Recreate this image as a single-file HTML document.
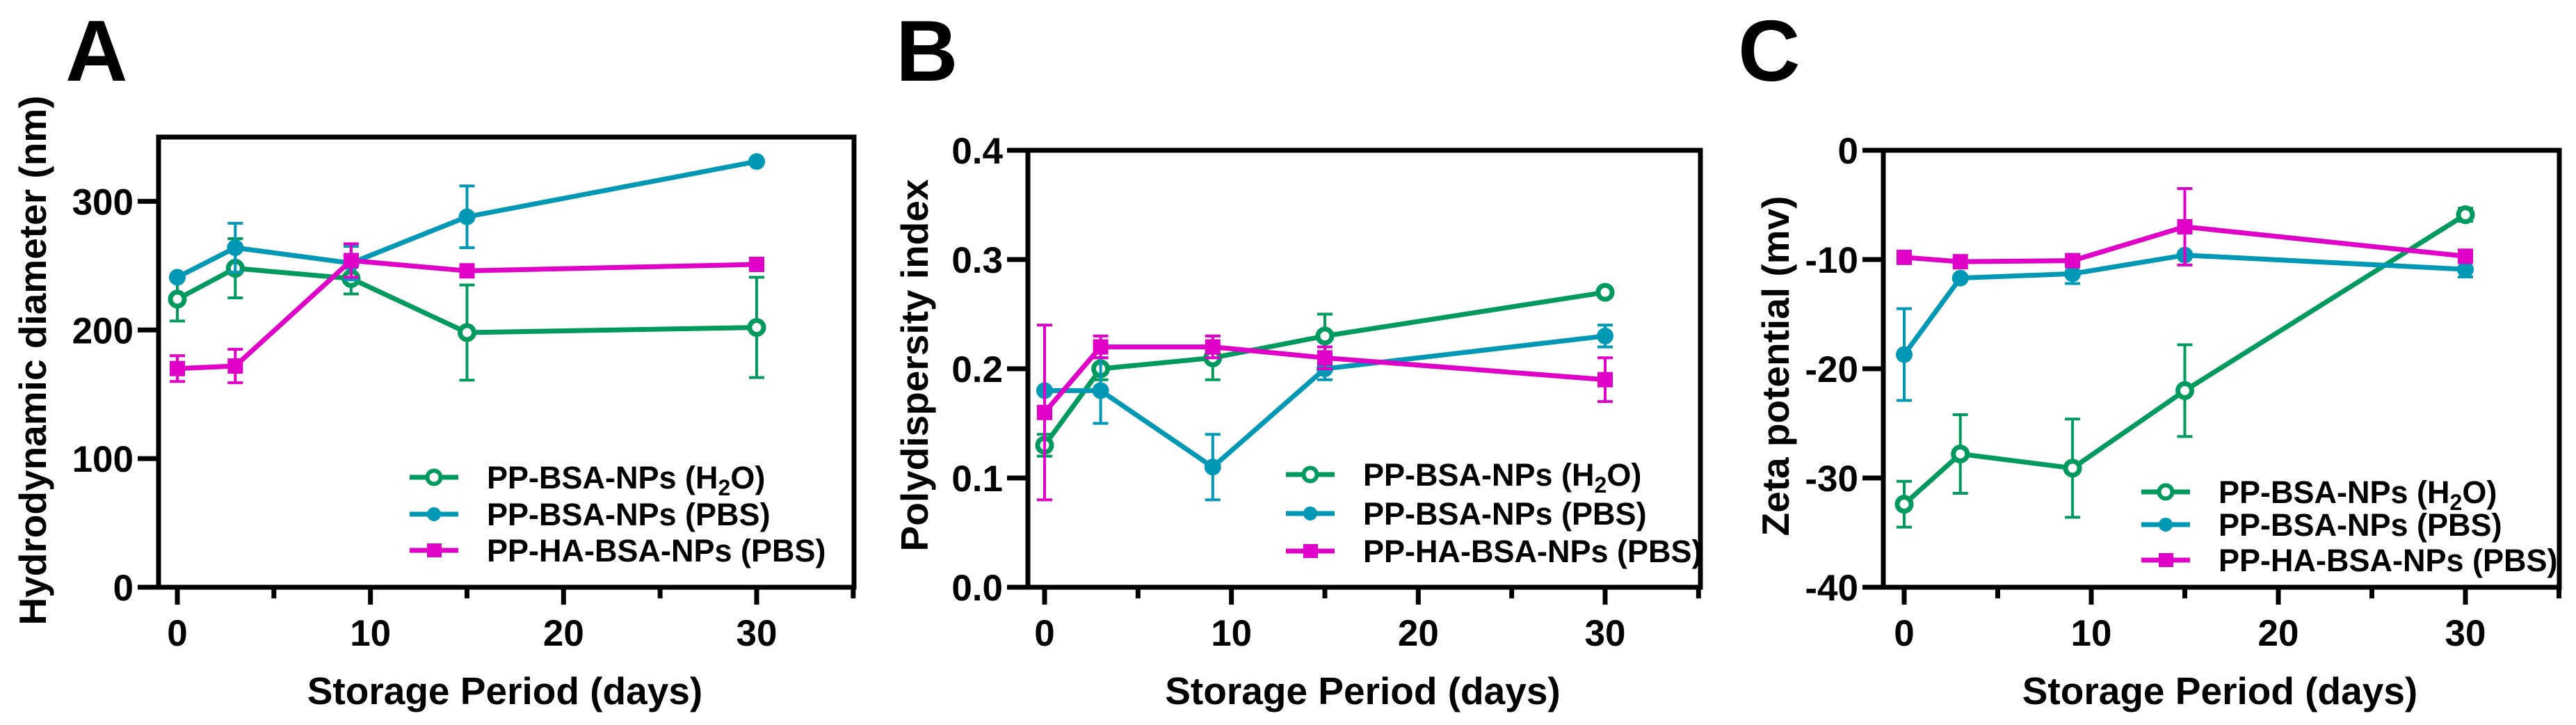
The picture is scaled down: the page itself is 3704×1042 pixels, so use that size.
<!DOCTYPE html>
<html><head><meta charset="utf-8"><style>
html,body{margin:0;padding:0;background:#fff;}
svg{display:block;font-family:"Liberation Sans",Arial,sans-serif;font-weight:bold;}
</style></head><body>
<svg id="fig" width="3704" height="1042" viewBox="0 0 3704 1042" xmlns="http://www.w3.org/2000/svg"></svg>
<script>
const days = [0, 3, 9, 15, 30];
const seriesNames = ["PP-BSA-NPs (H2O)", "PP-BSA-NPs (PBS)", "PP-HA-BSA-NPs (PBS)"];
// Panel A: hydrodynamic diameter
const aH2O = [224, 248, 240, 198, 202];
const aH2OErr = [17, 23, 12, 37, 39];
const aPBS = [241, 264, 252, 288, 331];
const aPBSErr = [0, 19, 13, 24, 0];
const aHA = [170, 172, 254, 246, 251];
const aHAErr = [10, 13, 13, 0, 0];
const aTicks = [0, 100, 200, 300];
// Panel B: PDI
const bH2O = [0.13, 0.20, 0.21, 0.23, 0.27];
const bH2OErr = [0.01, 0.01, 0.02, 0.02, 0];
const bPBS = [0.18, 0.18, 0.11, 0.20, 0.23];
const bPBSErr = [0, 0.03, 0.03, 0.01, 0.01];
const bHA = [0.16, 0.22, 0.22, 0.21, 0.19];
const bHAErr = [0.08, 0.01, 0.01, 0.01, 0.02];
const bTicks = ["0.0", "0.1", "0.2", "0.3", "0.4"];
// Panel C: zeta potential
const cH2O = [-32.4, -27.8, -29.1, -22.0, -5.9];
const cH2OErr = [2.1, 3.6, 4.5, 4.2, 0.6];
const cPBS = [-18.7, -11.7, -11.3, -9.6, -10.9];
const cPBSErr = [4.2, 0, 0.9, 0, 0.7];
const cHA = [-9.8, -10.2, -10.1, -7.0, -9.7];
const cHAErr = [0, 0, 0, 3.5, 0];
const cTicks = [-40, -30, -20, -10, 0];
const xTicks = [0, 10, 20, 30];
const xMinor = [5, 15, 25, 35];

const NS = "http://www.w3.org/2000/svg";
const svg = document.getElementById("fig");
const GREEN = "#009a5e", TEAL = "#0098b4", MAG = "#e000c8";
function mk(tag, attrs, parent) {
  const e = document.createElementNS(NS, tag);
  for (const k in attrs) e.setAttribute(k, attrs[k]);
  (parent || svg).appendChild(e);
  return e;
}

function panel(cfg) {
  const g = mk("g", {});
  
  
  const X = v => cfg.x0 + (v / 30) * (cfg.x30 - cfg.x0);
  const Y = v => cfg.bottom - (v - cfg.ymin) / (cfg.ymax - cfg.ymin) * (cfg.bottom - cfg.top);
  // letter
  const L = mk("text", {x: cfg.letterX, y: 116, "font-size": 124}, g);
  L.textContent = cfg.letter;
  
  
  // frame
  const fr = mk("rect", {x: cfg.left, y: cfg.top, width: cfg.right - cfg.left, height: cfg.bottom - cfg.top, fill: "none", stroke: "#000", "stroke-width": 7}, g);
  
  
  // y ticks
  cfg.yTicks.forEach(t => {
    const v = parseFloat(t);
    const yy = Y(v);
    const tk = mk("line", {x1: cfg.left - 30, x2: cfg.left, y1: yy, y2: yy, stroke: "#000", "stroke-width": 7}, g);
    
    
    const tl = mk("text", {x: cfg.left - 36, y: yy + 19, "font-size": 53, "text-anchor": "end"}, g);
    tl.textContent = String(t);
    
    
  });
  // x ticks
  xTicks.forEach(t => {
    const xx = X(t);
    const tk = mk("line", {x1: xx, x2: xx, y1: cfg.bottom, y2: cfg.bottom + 25, stroke: "#000", "stroke-width": 7}, g);
    
    
    const tl = mk("text", {x: xx, y: 928, "font-size": 53, "text-anchor": "middle"}, g);
    tl.textContent = String(t);
    
    
  });
  xMinor.forEach(t => {
    const xx = Math.min(X(t), cfg.right);
    const tk = mk("line", {x1: xx, x2: xx, y1: cfg.bottom, y2: cfg.bottom + 16, stroke: "#000", "stroke-width": 7}, g);
    
    
  });
  // axis titles
  const xt = mk("text", {x: (cfg.left + cfg.right) / 2 - 2, y: 1012, "font-size": 55, "text-anchor": "middle"}, g);
  xt.textContent = "Storage Period (days)";
  
  
  const yt = mk("text", {x: 0, y: 0, "font-size": 55, "text-anchor": "middle", transform: `translate(${cfg.ytX},${cfg.ytY}) rotate(-90)`}, g);
  yt.textContent = cfg.yTitle;
  
  
  // series
  const ser = [
    {vals: cfg.s[0], err: cfg.e[0], color: GREEN, m: "open", name: "h2o"},
    {vals: cfg.s[1], err: cfg.e[1], color: TEAL, m: "dot", name: "pbs"},
    {vals: cfg.s[2], err: cfg.e[2], color: MAG, m: "sq", name: "ha-pbs"}
  ];
  ser.forEach(s => {
    const sg = mk("g", {}, g);
    
    
    s.vals.forEach((v, i) => {
      const e = s.err[i];
      if (e > 0) {
        const xx = X(days[i]);
        const eb = mk("path", {d: `M${xx},${Y(v - e)}V${Y(v + e)}M${xx - 11},${Y(v + e)}H${xx + 11}M${xx - 11},${Y(v - e)}H${xx + 11}`, stroke: s.color, "stroke-width": 4, fill: "none"}, sg);
        
        
      }
    });
    const pts = s.vals.map((v, i) => X(days[i]) + "," + Y(v)).join(" ");
    const pl = mk("polyline", {points: pts, fill: "none", stroke: s.color, "stroke-width": 7}, sg);
    
    
    s.vals.forEach((v, i) => {
      const xx = X(days[i]), yy = Y(v);
      let mkEl;
      if (s.m === "open") mkEl = mk("circle", {cx: xx, cy: yy, r: 10, fill: "#fff", stroke: s.color, "stroke-width": 7}, sg);
      else if (s.m === "dot") mkEl = mk("circle", {cx: xx, cy: yy, r: 12, fill: s.color}, sg);
      else mkEl = mk("rect", {x: xx - 11, y: yy - 11, width: 22, height: 22, fill: s.color}, sg);
      
      
    });
  });
  // legend
  const lg = mk("g", {}, g);
  
  
  ser.forEach((s, k) => {
    const yy = cfg.legRows[k];
    const x1 = cfg.legX, x2 = cfg.legX + 70, xm = (x1 + x2) / 2;
    const le = mk("g", {}, lg);
    
    
    mk("line", {x1: x1, x2: x2, y1: yy, y2: yy, stroke: s.color, "stroke-width": 7}, le);
    if (s.m === "open") mk("circle", {cx: xm, cy: yy, r: 9.5, fill: "#fff", stroke: s.color, "stroke-width": 6}, le);
    else if (s.m === "dot") mk("circle", {cx: xm, cy: yy, r: 10, fill: s.color}, le);
    else mk("rect", {x: xm - 10, y: yy - 10, width: 21, height: 20, fill: s.color}, le);
    const tx = mk("text", {x: cfg.legX + 111, y: yy + 16, "font-size": 45}, le);
    if (k === 0) {
      tx.innerHTML = 'PP-BSA-NPs (H<tspan font-size="32" dy="10">2</tspan><tspan dy="-10">O)</tspan>';
    } else tx.textContent = seriesNames[k];
  });
}

panel({id: "a", letter: "A", letterX: 94, left: 228, right: 1228, top: 197, bottom: 844,
  x0: 255, x30: 1088, ymin: 0, ymax: 350, yTicks: aTicks,
  yTitle: "Hydrodynamic diameter (nm)", ytX: 66, ytY: 518,
  s: [aH2O, aPBS, aHA], e: [aH2OErr, aPBSErr, aHAErr], legX: 589, legRows: [686, 739, 791]});
panel({id: "b", letter: "B", letterX: 1288, left: 1478, right: 2445, top: 216, bottom: 844,
  x0: 1502, x30: 2308, ymin: 0, ymax: 0.4, yTicks: bTicks,
  yTitle: "Polydispersity index", ytX: 1334, ytY: 525,
  s: [bH2O, bPBS, bHA], e: [bH2OErr, bPBSErr, bHAErr], legX: 1849, legRows: [682, 738, 792]});
panel({id: "c", letter: "C", letterX: 2499, left: 2708, right: 3680, top: 216, bottom: 844,
  x0: 2738, x30: 3545, ymin: -40, ymax: 0, yTicks: cTicks,
  yTitle: "Zeta potential (mv)", ytX: 2572, ytY: 526,
  s: [cH2O, cPBS, cHA], e: [cH2OErr, cPBSErr, cHAErr], legX: 3079, legRows: [707, 754, 805]});
</script>
</body></html>
